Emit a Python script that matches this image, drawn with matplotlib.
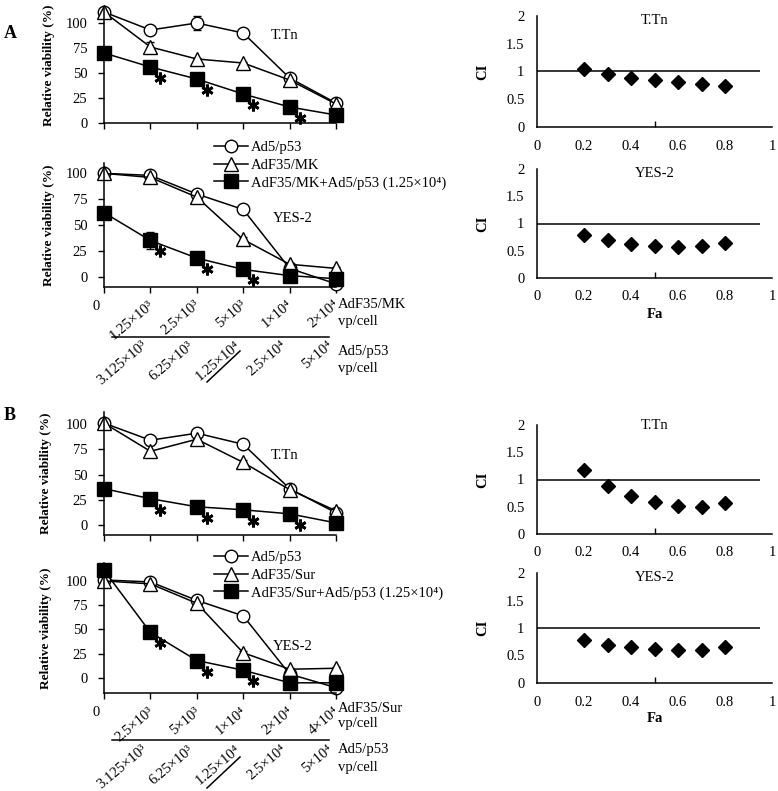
import numpy as np
import matplotlib
matplotlib.use('Agg')
import matplotlib.pyplot as plt
from matplotlib.lines import Line2D
from matplotlib.transforms import offset_copy

plt.rcParams['font.family'] = ['Liberation Serif', 'DejaVu Serif']
plt.rcParams['font.size'] = 10

# ---- data: relative viability (%) ----
dose_idx = [0, 1, 2, 3, 4, 5]

a_ttn_p53 = [111, 93, 100, 90, 45, 20]
a_ttn_p53_err = [0, 3, 7, 2, 3, 2]
a_ttn_mk = [111, 76, 64, 60, 43, 19]
a_ttn_mk_err = [2, 5, 1, 1, 2, 1]
a_ttn_combo = [70, 56, 44, 29, 16, 8]
a_ttn_combo_err = [0, 0, 0, 0, 0, 0]

a_yes_p53 = [100, 98, 80, 65, 8, -7]
a_yes_p53_err = [1, 1, 2, 1, 1, 1]
a_yes_mk = [100, 96, 77, 36, 12, 8]
a_yes_mk_err = [1, 2, 2, 2, 1, 1]
a_yes_combo = [62, 35, 18, 7, 1, -2]
a_yes_combo_err = [0, 8, 0, 0, 0, 0]

b_ttn_p53 = [101, 84, 91, 80, 36, 12]
b_ttn_p53_err = [1, 4, 5, 1, 2, 2]
b_ttn_sur = [101, 73, 85, 62, 35, 14]
b_ttn_sur_err = [3, 6, 4, 2, 2, 2]
b_ttn_combo = [36, 26, 18, 15, 11, 2]
b_ttn_combo_err = [0, 0, 0, 0, 0, 0]

b_yes_p53 = [101, 99, 80, 64, 4, -10]
b_yes_p53_err = [5, 3, 2, 1, 1, 1]
b_yes_sur = [100, 97, 77, 26, 9, 10]
b_yes_sur_err = [1, 3, 2, 2, 1, 1]
b_yes_combo = [111, 47, 18, 8, -5, -5]
b_yes_combo_err = [0, 0, 0, 0, 0, 0]

# significance stars (indices of combo points)
a_ttn_stars = [1, 2, 3, 4]
a_yes_stars = [1, 2, 3]
b_ttn_stars = [1, 2, 3, 4]
b_yes_stars = [1, 2, 3]

# dose tick labels
a_row1 = ['1.25×10³', '2.5×10³', '5×10³', '1×10⁴', '2×10⁴']
b_row1 = ['2.5×10³', '5×10³', '1×10⁴', '2×10⁴', '4×10⁴']
p53_row2 = ['3.125×10³', '6.25×10³', '1.25×10⁴', '2.5×10⁴', '5×10⁴']

# ---- data: combination index ----
fa = [0.2, 0.3, 0.4, 0.5, 0.6, 0.7, 0.8]
ci_a_ttn = [1.04, 0.96, 0.89, 0.85, 0.81, 0.77, 0.74]
ci_a_yes = [0.78, 0.70, 0.62, 0.58, 0.57, 0.58, 0.65]
ci_b_ttn = [1.17, 0.88, 0.70, 0.58, 0.51, 0.49, 0.56]
ci_b_yes = [0.79, 0.70, 0.65, 0.62, 0.60, 0.60, 0.65]

W, H = 778, 791
fig = plt.figure(figsize=(W / 100, H / 100), dpi=100)


def add_ax(left, top, right, bottom):
    return fig.add_axes([left / W, 1 - bottom / H, (right - left) / W, (bottom - top) / H])


def ftext(x, y, s, **kw):
    fig.text(x / W, 1 - y / H, s, **kw)


def fline(x0, y0, x1, y1):
    fig.add_artist(Line2D([x0 / W, x1 / W], [1 - y0 / H, 1 - y1 / H],
                          transform=fig.transFigure, color='black', lw=1.1))


def viab_panel(ax, series, ylim, stars, label, label_xy, ylab_x):
    mk = [('o', 'white', 9), ('^', 'white', 10), ('s', 'black', 10)]
    for (vals, err), (m, fc, ms) in zip(series, mk):
        ax.errorbar(dose_idx, vals, yerr=err, color='black', lw=1.1, marker=m,
                    mfc=fc, mec='black', ms=ms, mew=1.0, capsize=3, elinewidth=1,
                    clip_on=False)
    combo = series[2][0]
    tr = offset_copy(ax.transData, fig=fig, x=10, y=-11, units='dots')
    ax.plot([dose_idx[i] for i in stars], [combo[i] for i in stars], ls='none',
            marker=(6, 2, 0), ms=8.5, mew=2, color='black', transform=tr, clip_on=False)
    ax.set_xlim(0, 5)
    ax.set_ylim(*ylim)
    ax.set_yticks([0, 25, 50, 75, 100])
    ax.set_xticks(dose_idx)
    ax.set_xticklabels([])
    ax.tick_params(direction='out', length=4, width=1, pad=8, labelsize=10.5)
    for s in ['top', 'right']:
        ax.spines[s].set_visible(False)
    for s in ['left', 'bottom']:
        ax.spines[s].set_linewidth(1.1)
    ax.set_ylabel('Relative viability (%)', fontweight='bold', fontsize=9.5)
    ax.yaxis.set_label_coords(ylab_x, 0.5)
    ax.text(label_xy[0], label_xy[1], label, transform=ax.transAxes,
            ha='center', va='center', fontsize=10.5)


def ci_panel(ax, vals, title, title_y):
    ax.hlines(1, 0, 0.95, color='black', lw=1.1)
    ax.plot(fa, vals, ls='none', marker='D', ms=7.5, color='black', clip_on=False)
    ax.set_xlim(0, 1)
    ax.set_ylim(0, 2)
    ax.set_xticks([0, 0.2, 0.4, 0.6, 0.8, 1])
    ax.set_xticklabels(['0', '0.2', '0.4', '0.6', '0.8', '1'])
    ax.set_yticks([0, 0.5, 1, 1.5, 2])
    ax.set_yticklabels(['0', '0.5', '1', '1.5', '2'])
    ax.tick_params(length=0, pad=9, labelsize=10.5)
    ax.set_xticks([0.5, 1], minor=True)
    ax.set_yticks([2], minor=True)
    ax.tick_params(which='minor', direction='in', length=4, width=1)
    for s in ['top', 'right']:
        ax.spines[s].set_visible(False)
    for s in ['left', 'bottom']:
        ax.spines[s].set_linewidth(1.1)
    ax.set_ylabel('CI', fontweight='bold', fontsize=10.5)
    ax.yaxis.set_label_coords(-0.205, 0.5)
    ax.text(0.5, title_y, title, transform=ax.transAxes, ha='center', va='center',
            fontsize=10.5)


def dose_axis(ax, bottom, row1, name1, dy1, dy2, dline, dname):
    ax.annotate('0', xy=(0, 0), xycoords=('data', 'axes fraction'), xytext=(-8, -dy1 - 8),
                textcoords='offset pixels', ha='center', va='center', fontsize=10.5)
    for i, s in zip(dose_idx[1:], row1):
        ax.annotate(s, xy=(i, 0), xycoords=('data', 'axes fraction'), xytext=(-3, -dy1),
                    textcoords='offset pixels', ha='right', va='top', rotation=40,
                    rotation_mode='anchor', fontsize=10.5)
    for i, s in zip(dose_idx[1:], p53_row2):
        ax.annotate(s, xy=(i, 0), xycoords=('data', 'axes fraction'), xytext=(-9, -dy2),
                    textcoords='offset pixels', ha='right', va='top', rotation=40,
                    rotation_mode='anchor', fontsize=10.5)
    fline(112, bottom + dline, 329, bottom + dline)
    fline(207, bottom + 95, 240, bottom + 64)
    ftext(338, bottom + dname[0], name1, va='center', fontsize=10.5)
    ftext(338, bottom + dname[1], 'vp/cell', va='center', fontsize=10.5)
    ftext(338, bottom + dname[2], 'Ad5/p53', va='center', fontsize=10.5)
    ftext(338, bottom + dname[3], 'vp/cell', va='center', fontsize=10.5)


def add_legend(name, top):
    handles = [Line2D([], [], color='black', lw=1.1, marker='o', mfc='white', mec='black', ms=9),
               Line2D([], [], color='black', lw=1.1, marker='^', mfc='white', mec='black', ms=10),
               Line2D([], [], color='black', lw=1.1, marker='s', mfc='black', mec='black', ms=10)]
    labels = ['Ad5/p53', name, name + '+Ad5/p53 (1.25×10⁴)']
    fig.legend(handles, labels, loc='upper left', bbox_to_anchor=(214 / W, 1 - top / H),
               frameon=False, borderpad=0, borderaxespad=0, handlelength=2.3,
               handletextpad=0.25, labelspacing=0.3, fontsize=10.5)


# ---- panel A ----
ax1 = add_ax(104, 8, 336, 123)
viab_panel(ax1, [(a_ttn_p53, a_ttn_p53_err), (a_ttn_mk, a_ttn_mk_err),
                 (a_ttn_combo, a_ttn_combo_err)], (0, 115), a_ttn_stars,
           'T.Tn', (0.78, 0.765), -0.211)

ax2 = add_ax(104, 163, 336, 287)
viab_panel(ax2, [(a_yes_p53, a_yes_p53_err), (a_yes_mk, a_yes_mk_err),
                 (a_yes_combo, a_yes_combo_err)], (-10, 110), a_yes_stars,
           'YES-2', (0.815, 0.556), -0.211)
dose_axis(ax2, 287, a_row1, 'AdF35/MK', 11, 52, 50, (18, 35, 65, 82))
add_legend('AdF35/MK', 141)

ax3 = add_ax(537, 16, 772, 127)
ci_panel(ax3, ci_a_ttn, 'T.Tn', 0.96)
ax4 = add_ax(537, 169, 772, 278)
ci_panel(ax4, ci_a_yes, 'YES-2', 0.96)
ftext(655, 314, 'Fa', ha='center', va='center', fontweight='bold', fontsize=10.5)

# ---- panel B ----
ax5 = add_ax(104, 412, 336, 535)
viab_panel(ax5, [(b_ttn_p53, b_ttn_p53_err), (b_ttn_sur, b_ttn_sur_err),
                 (b_ttn_combo, b_ttn_combo_err)], (-10, 112), b_ttn_stars,
           'T.Tn', (0.78, 0.65), -0.225)

ax6 = add_ax(104, 563, 336, 693)
viab_panel(ax6, [(b_yes_p53, b_yes_p53_err), (b_yes_sur, b_yes_sur_err),
                 (b_yes_combo, b_yes_combo_err)], (-15.5, 118.5), b_yes_stars,
           'YES-2', (0.815, 0.354), -0.225)
dose_axis(ax6, 693, b_row1, 'AdF35/Sur', 12, 50, 47, (15, 30, 56, 75))
add_legend('AdF35/Sur', 551)

ax7 = add_ax(537, 425, 772, 534)
ci_panel(ax7, ci_b_ttn, 'T.Tn', 1.0)
ax8 = add_ax(537, 573, 772, 683)
ci_panel(ax8, ci_b_yes, 'YES-2', 0.96)
ftext(655, 718, 'Fa', ha='center', va='center', fontweight='bold', fontsize=10.5)

ftext(10, 34, 'A', ha='center', va='center', fontweight='bold', fontsize=13)
ftext(10, 415, 'B', ha='center', va='center', fontweight='bold', fontsize=13)

fig.savefig('out.png', dpi=100)
